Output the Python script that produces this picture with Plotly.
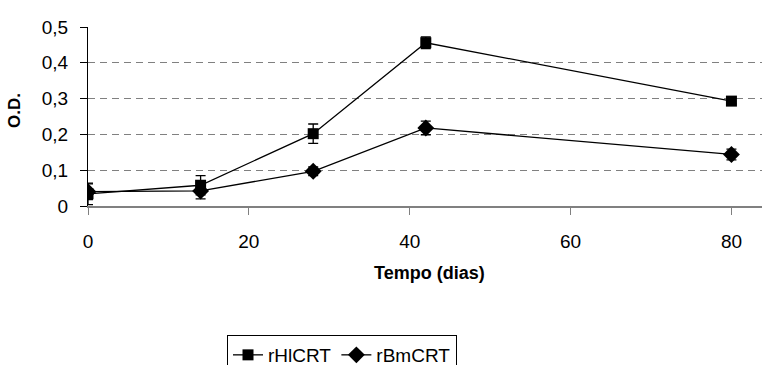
import plotly.graph_objects as go

days = [0, 14, 28, 42, 80]
hl_od = [0.034, 0.058, 0.202, 0.456, 0.293]
hl_err = [0.030, 0.027, 0.027, 0.016, 0.008]
bm_od = [0.040, 0.042, 0.097, 0.218, 0.144]
bm_err = [0.022, 0.022, 0.012, 0.019, 0.015]
names = ["rHlCRT", "rBmCRT"]
y_ticks = [0, 0.1, 0.2, 0.3, 0.4, 0.5]
x_ticks = [0, 20, 40, 60, 80]

fig = go.Figure()
fig.add_trace(go.Scatter(
    x=days, y=hl_od, name=names[0], mode="lines+markers",
    line=dict(color="black", width=1.3),
    marker=dict(symbol="square", size=11, color="black"),
    error_y=dict(type="data", array=hl_err, color="black", thickness=1.3, width=5),
))
fig.add_trace(go.Scatter(
    x=days, y=bm_od, name=names[1], mode="lines+markers",
    line=dict(color="black", width=1.3),
    marker=dict(symbol="diamond", size=13, color="black"),
    error_y=dict(type="data", array=bm_err, color="black", thickness=1.3, width=5),
))

W, H = 762, 365
L, T, B = 88, 27, 159
pw = W - L
ph = H - T - B

fig.update_layout(
    width=W, height=H,
    margin=dict(l=L, r=0, t=T, b=B, autoexpand=False),
    paper_bgcolor="white", plot_bgcolor="white",
    separators=",.",
    font=dict(family="Liberation Sans, Arial, sans-serif", color="black"),
    showlegend=True,
    legend=dict(
        orientation="h", xref="container", x=227 / W, xanchor="left",
        yref="container", y=(H - 335) / H, yanchor="top",
        bordercolor="black", borderwidth=1, font=dict(size=19),
        itemwidth=30, tracegroupgap=0,
    ),
    xaxis=dict(
        range=[0, 83.8], tickvals=x_ticks, showgrid=False, zeroline=False,
        showline=True, linecolor="#808080", linewidth=1.5,
        ticks="outside", ticklen=7, tickcolor="#808080", tickwidth=1,
        tickfont=dict(size=19), ticklabelstandoff=10, automargin=False,
    ),
    yaxis=dict(
        range=[0, 0.5], tickvals=y_ticks, showgrid=True, gridcolor="#808080",
        griddash="7px,5px", gridwidth=1.3, zeroline=False,
        showline=True, linecolor="black", linewidth=1.3,
        ticks="outside", ticklen=7, tickcolor="black", tickwidth=1,
        tickfont=dict(size=19), ticklabelstandoff=8, automargin=False,
    ),
    annotations=[
        dict(text="<b>Tempo (dias)</b>", x=(429 - L) / pw, y=(H - B - 273) / ph,
             xref="paper", yref="paper", xanchor="center", yanchor="middle",
             showarrow=False, font=dict(size=18)),
        dict(text="<b>O.D.</b>", x=(15 - L) / pw, y=(H - B - 111) / ph,
             xref="paper", yref="paper", xanchor="center", yanchor="middle",
             textangle=-90, showarrow=False, font=dict(size=17)),
    ],
)

fig.write_html("out.html")
